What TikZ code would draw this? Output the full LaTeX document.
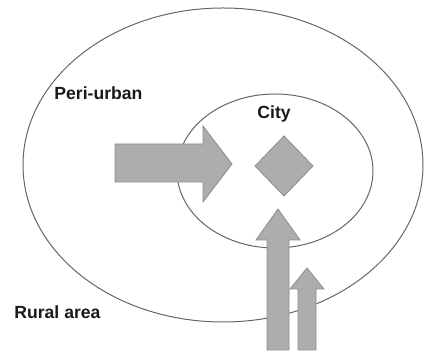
\documentclass[tikz,border=0pt]{standalone}
\usepackage{fontspec}
\setmainfont{Liberation Sans}
\usepackage{tikz}
\usetikzlibrary{calc}

\tikzset{
  zone/.style={draw=black!60, line width=0.5pt},
  flow/.style={fill=black!32, draw=black!45, line width=0.4pt},
  zonelabel/.style={font=\fontsize{8.8}{10}\selectfont\bfseries, text=black!90, inner sep=0pt, anchor=base west}
}

\begin{document}
\begin{tikzpicture}[x=0.5pt, y=-0.5pt]

            % Rahmen
            \useasboundingbox (0,0) rectangle (424,356);

            % Zonen
            \draw[zone] (223,165) ellipse [x radius=200, y radius=157]; % Umland
            \draw[zone] (275,171) ellipse [x radius=98, y radius=77]; % Stadt

            % Stroeme
            \filldraw[flow] (115,144) -- (203,144) -- (203,126) -- (232,164) -- (203,202) -- (203,182) -- (115,182) -- cycle;
            \filldraw[flow] (284,136) -- (313,166) -- (284,196) -- (255,166) -- cycle; % Zentrum
            \filldraw[flow] (267,350) -- (267,240) -- (256,240) -- (278,209) -- (300,240) -- (289,240) -- (289,350) -- cycle;
            \filldraw[flow] (298,350) -- (298,289) -- (290,289) -- (307,268) -- (324,289) -- (316,289) -- (316,350) -- cycle;

            % Beschriftung
            \node[zonelabel] (periurban) at (54,100) {Peri-urban};
            \node[zonelabel] (city) at (257,119) {City};
            \node[zonelabel] (rural) at (14,319) {Rural area};

\end{tikzpicture}
\end{document}
